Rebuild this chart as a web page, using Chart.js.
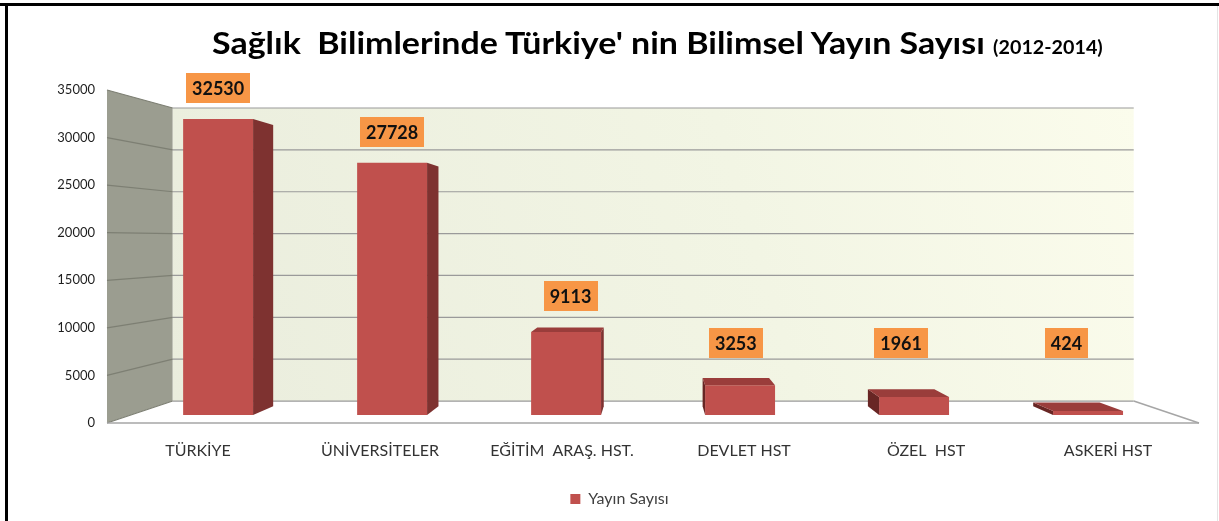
<!DOCTYPE html>
<html>
<head>
<meta charset="utf-8">
<script src="https://cdn.jsdelivr.net/npm/chart.js@4.4.1/dist/chart.umd.min.js"></script>
<style>
  html, body { margin: 0; padding: 0; background: #fff; }
  #wrap { position: relative; width: 1219px; height: 521px; overflow: hidden; background: #fff; }
  #chart { position: absolute; left: 0; top: 0; }
  #frameTop { position: absolute; left: 0; top: 3px; width: 1219px; height: 3px; background: #000; }
  #frameLeft { position: absolute; left: 5px; top: 3px; width: 3px; height: 518px; background: #000; }
  #frameRight { position: absolute; left: 1217px; top: 6px; width: 1px; height: 515px; background: #e4e4e4; }
  #title { position: absolute; left: 212px; top: 27px; font-family: Lato, "Open Sans", sans-serif; font-weight: 700;
           font-size: 31px; line-height: 30px; color: #000; white-space: pre;
           transform: scaleX(1.095); transform-origin: 0 0; }
  #title .yr { font-size: 18px; }
</style>
</head>
<body>
<div id="wrap">
  <canvas id="chart" width="1219" height="521"></canvas>
  <div id="title">Sağlık  Bilimlerinde Türkiye' nin Bilimsel Yayın Sayısı <span class="yr">(2012-2014)</span></div>
  <div id="frameTop"></div>
  <div id="frameLeft"></div>
  <div id="frameRight"></div>
</div>
<script>
// ---------- data ----------
const categories = ['TÜRKİYE', 'ÜNİVERSİTELER', 'EĞİTİM  ARAŞ. HST.', 'DEVLET HST', 'ÖZEL  HST', 'ASKERİ HST'];
const seriesName = 'Yayın Sayısı';
const values = [32530, 27728, 9113, 3253, 1961, 424];
const yTicks = [0, 5000, 10000, 15000, 20000, 25000, 30000, 35000];

// ---------- style / perspective ----------
const Y_MAX = 35000;
const VP = { x: 655, y: 240 };      // vanishing point of the 3D view
const WALL_PLANE = 0.88;            // depth scale of back wall
const BAR_PLANE = 0.956;            // depth scale of bar front faces
const BAR_DEPTH = 0.95;             // depth of bars (relative)
const LABEL_MAX_Y = 343;
const LABEL_GAP = 31;
const LEGEND_SHIFT = 20;
const COL_FRONT = '#c0504d', COL_SIDE = '#7e3230', COL_LSIDE = '#682624', COL_TOP = '#9a3d3b';

function poly(ctx, pts) {
  ctx.beginPath();
  ctx.moveTo(pts[0].x, pts[0].y);
  for (let i = 1; i < pts.length; i++) ctx.lineTo(pts[i].x, pts[i].y);
  ctx.closePath();
}
function line(ctx, a, b) { ctx.beginPath(); ctx.moveTo(a.x, a.y); ctx.lineTo(b.x, b.y); ctx.stroke(); }
const P = (px, py, s) => ({ x: VP.x + (px - VP.x) * s, y: VP.y + (py - VP.y) * s });

const plot3d = {
  id: 'plot3d',
  afterLayout(chart) {
    if (chart.legend) { chart.legend.left += LEGEND_SHIFT; chart.legend.right += LEGEND_SHIFT; }
  },
  beforeDatasetsDraw(chart) {
    const { ctx, chartArea: a, scales: { y } } = chart;
    const top = y.getPixelForValue(Y_MAX), bot = y.getPixelForValue(0);
    const fTL = { x: a.left, y: top }, fBL = { x: a.left, y: bot }, fBR = { x: a.right, y: bot };
    const bTL = P(a.left, top, WALL_PLANE), bBL = P(a.left, bot, WALL_PLANE);
    const bTR = P(a.right, top, WALL_PLANE), bBR = P(a.right, bot, WALL_PLANE);
    ctx.save();
    // side wall
    poly(ctx, [fTL, bTL, bBL, fBL]);
    ctx.fillStyle = '#9b9d90'; ctx.fill();
    // back wall
    const g = ctx.createLinearGradient(bBL.x, bBL.y, bTR.x, bTR.y);
    g.addColorStop(0, '#eaeddd');
    g.addColorStop(0.6, '#f2f5e4');
    g.addColorStop(1, '#fbfcec');
    poly(ctx, [bTL, bTR, bBR, bBL]);
    ctx.fillStyle = g; ctx.fill();
    // floor
    poly(ctx, [bBL, bBR, fBR, fBL]);
    ctx.fillStyle = '#ffffff'; ctx.fill();
    // grid lines
    yTicks.forEach(v => {
      const fy = y.getPixelForValue(v);
      const b1 = P(a.left, fy, WALL_PLANE), b2 = P(a.right, fy, WALL_PLANE);
      ctx.lineWidth = 1.2;
      ctx.strokeStyle = '#7d7f73';
      line(ctx, { x: a.left, y: fy }, b1);
      ctx.strokeStyle = '#9a9a9a';
      line(ctx, b1, b2);
    });
    // floor edges
    ctx.strokeStyle = '#a6a6a6'; ctx.lineWidth = 1.5;
    line(ctx, fBL, fBR);
    line(ctx, bBR, fBR);
    ctx.restore();
    // perspective for the bar plane
    ctx.save();
    ctx.translate(VP.x, VP.y);
    ctx.scale(BAR_PLANE, BAR_PLANE);
    ctx.translate(-VP.x, -VP.y);
  },
  afterDatasetsDraw(chart) {
    const { ctx } = chart;
    const meta = chart.getDatasetMeta(0);
    const Q = (px, py) => P(px, py, BAR_DEPTH);
    const anchors = [];
    meta.data.forEach(bar => {
      const { x, y, base, width } = bar.getProps(['x', 'y', 'base', 'width'], true);
      const L = x - width / 2, R = x + width / 2, T = y, B = base;
      if (R < VP.x) {
        poly(ctx, [{ x: R, y: T }, { x: R, y: B }, Q(R, B), Q(R, T)]);
        ctx.fillStyle = COL_SIDE; ctx.fill();
      }
      if (L > VP.x) {
        poly(ctx, [{ x: L, y: T }, { x: L, y: B }, Q(L, B), Q(L, T)]);
        ctx.fillStyle = COL_LSIDE; ctx.fill();
      }
      let anchor;
      if (T > VP.y) {
        poly(ctx, [{ x: L, y: T }, { x: R, y: T }, Q(R, T), Q(L, T)]);
        ctx.fillStyle = COL_TOP; ctx.fill();
        anchor = Q(x, T);
      } else {
        anchor = { x: x, y: T };
      }
      anchors.push(P(anchor.x, anchor.y, BAR_PLANE));
    });
    ctx.restore();
    // data labels
    ctx.save();
    ctx.font = 'bold 18px Lato, "Open Sans", sans-serif';
    ctx.textAlign = 'center';
    ctx.textBaseline = 'middle';
    values.forEach((v, i) => {
      const a = anchors[i];
      const cy = Math.min(a.y - LABEL_GAP, LABEL_MAX_Y);
      const txt = String(v);
      const tw = ctx.measureText(txt).width;
      const bw = tw + 12, bh = 30;
      ctx.fillStyle = '#f79646';
      ctx.fillRect(Math.round(a.x - bw / 2), Math.round(cy - bh / 2), Math.round(bw), bh);
      ctx.fillStyle = '#111';
      ctx.fillText(txt, a.x, cy + 1);
    });
    ctx.restore();
  }
};

new Chart(document.getElementById('chart'), {
  type: 'bar',
  data: {
    labels: categories,
    datasets: [{
      label: seriesName,
      data: values,
      backgroundColor: COL_FRONT,
      borderWidth: 0,
      categoryPercentage: 1,
      barPercentage: 0.402,
      clip: false
    }]
  },
  options: {
    responsive: false,
    animation: false,
    events: [],
    layout: { padding: { top: 90, right: 20, left: 0, bottom: 4 } },
    scales: {
      x: {
        grid: { display: false, drawTicks: false, tickLength: 0 },
        border: { display: false },
        ticks: { padding: 18, color: '#333', font: { family: 'Lato', size: 16 }, maxRotation: 0, autoSkip: false },
        afterFit: s => { s.height = 56; }
      },
      y: {
        min: 0, max: Y_MAX,
        grid: { display: false, drawTicks: false, tickLength: 0 },
        border: { display: false },
        ticks: { stepSize: 5000, padding: 12, color: '#1e1e1e', font: { family: 'Lato', size: 13 },
                 callback: v => String(v) },
        afterFit: s => { s.width = 107; }
      }
    },
    plugins: {
      legend: {
        position: 'bottom',
        labels: { boxWidth: 10, boxHeight: 10, padding: 12, color: '#404040', font: { family: 'Lato', size: 16 } }
      },
      tooltip: { enabled: false },
      title: { display: false }
    }
  },
  plugins: [plot3d]
});
</script>
</body>
</html>
